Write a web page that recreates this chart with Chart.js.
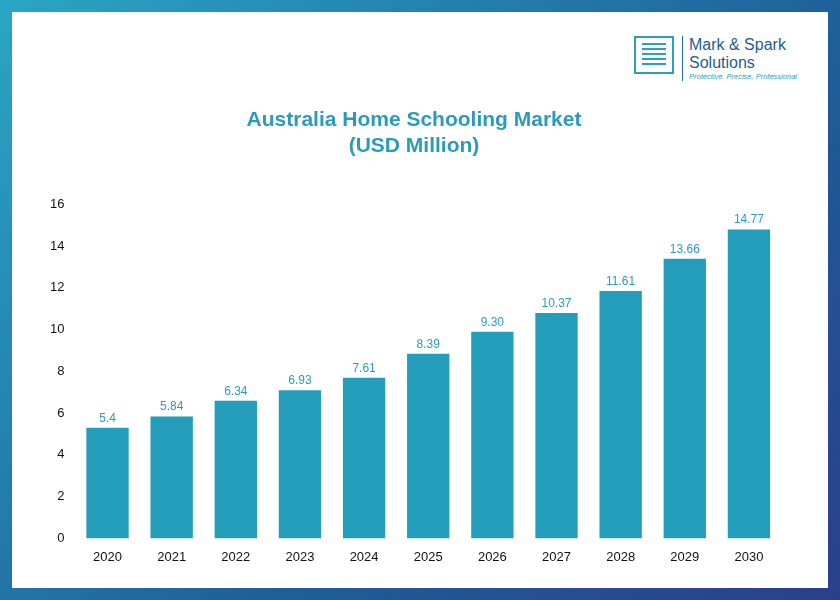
<!DOCTYPE html>
<html>
<head>
<meta charset="utf-8">
<script src="https://cdn.jsdelivr.net/npm/chart.js@4"></script>
<style>
  body { margin: 0; }
  .frame { width: 840px; height: 600px; background: linear-gradient(135deg, #2aa6c4, #1e5f9a 60%, #2a3f8a); position: relative; }
  .panel { position: absolute; left: 12px; top: 12px; width: 816px; height: 576px; background: #fff; }
  .logo { position: absolute; left: 634px; top: 36px; font-family: "Liberation Sans", Arial, sans-serif; color: #1f6f9f; }
  .logo .box { position: absolute; left: 0; top: 0; width: 40px; height: 38px; border: 2px solid #2a9fc0; box-sizing: border-box; padding: 5px 6px; }
  .logo .box div { height: 2px; background: #2a9fc0; margin-bottom: 3px; }
  .logo .txt { position: absolute; left: 48px; top: 0; border-left: 1px solid #1f6f9f; padding-left: 6px; width: 150px; }
  .logo .n { font-size: 16px; line-height: 18px; color: #1f5d8f; }
  .logo .s { font-size: 7.5px; font-style: italic; color: #2a9fc0; white-space: nowrap; }
  .wrap { position: absolute; left: 47px; top: 93px; width: 744px; height: 475px; }
</style>
</head>
<body>
<div class="frame">
  <div class="panel"></div>
  <div class="logo">
    <div class="box"><div></div><div></div><div></div><div></div><div></div></div>
    <div class="txt"><div class="n">Mark &amp; Spark<br>Solutions</div><div class="s">Protective. Precise. Professional</div></div>
  </div>
  <div class="wrap"><canvas id="c"></canvas></div>
</div>
<script>
// values
const years = ['2020', '2021', '2022', '2023', '2024', '2025', '2026', '2027', '2028', '2029', '2030'];
const barHeights = [5.3, 5.84, 6.6, 7.1, 7.7, 8.85, 9.9, 10.8, 11.85, 13.4, 14.8];
const valueLabels = ['5.4', '5.84', '6.34', '6.93', '7.61', '8.39', '9.30', '10.37', '11.61', '13.66', '14.77'];

const labelPlugin = {
  id: 'valueLabels',
  afterDatasetsDraw(chart) {
    const ctx = chart.ctx;
    ctx.save();
    ctx.font = '12px "Liberation Sans", Arial, sans-serif';
    ctx.fillStyle = '#2a9bbd';
    ctx.textAlign = 'center';
    chart.getDatasetMeta(0).data.forEach((bar, i) => {
      ctx.fillText(valueLabels[i], bar.x, bar.y - 6);
    });
    ctx.restore();
  }
};

new Chart(document.getElementById('c'), {
  type: 'bar',
  data: {
    labels: years,
    datasets: [{ data: barHeights, backgroundColor: '#239dba', categoryPercentage: 1, barPercentage: 0.66 }]
  },
  options: {
    responsive: true,
    maintainAspectRatio: false,
    animation: false,
    layout: { padding: { right: 10 } },
    plugins: {
      legend: { display: false },
      tooltip: { enabled: false },
      title: {
        display: true,
        text: ['Australia Home Schooling Market', '(USD Million)'],
        color: '#2a9bbd',
        font: { family: '"Liberation Sans", Arial, sans-serif', size: 21, weight: 'bold' },
        padding: { top: 15, bottom: 46 }
      }
    },
    scales: {
      x: {
        grid: { display: false },
        border: { display: false },
        ticks: { color: '#111', font: { family: '"Liberation Sans", Arial, sans-serif', size: 13 } }
      },
      y: {
        min: 0, max: 16,
        grid: { display: false },
        border: { display: false },
        ticks: { stepSize: 2, color: '#111', font: { family: '"Liberation Sans", Arial, sans-serif', size: 13 } }
      }
    }
  },
  plugins: [labelPlugin]
});
</script>
</body>
</html>
